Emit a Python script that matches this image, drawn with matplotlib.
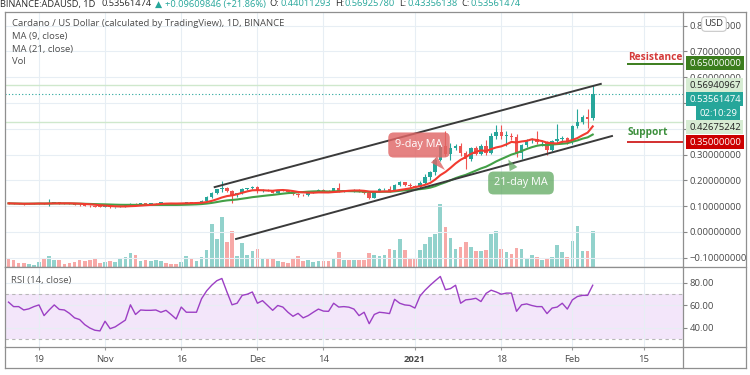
import numpy as np
import pandas as pd
import matplotlib
matplotlib.use("Agg")
import matplotlib.pyplot as plt
import matplotlib.dates as mdates
from matplotlib.lines import Line2D
from matplotlib.ticker import FuncFormatter

plt.rcParams['font.family'] = ['Open Sans', 'DejaVu Sans']

# ---------------- data ----------------
dates = pd.date_range("2020-10-13", "2021-02-05", freq="D")

opens = [0.113, 0.111, 0.110, 0.109, 0.108, 0.110, 0.111, 0.113, 0.109, 0.113,
         0.115, 0.111, 0.110, 0.108, 0.105, 0.104, 0.101, 0.100, 0.098, 0.097,
         0.099, 0.095, 0.097, 0.100, 0.105, 0.110, 0.107, 0.111, 0.109, 0.111,
         0.112, 0.113, 0.111, 0.110, 0.108, 0.111, 0.116, 0.113, 0.116, 0.122,
         0.137, 0.152, 0.165, 0.172, 0.159, 0.142, 0.151, 0.168, 0.170, 0.176,
         0.157, 0.162, 0.160, 0.152, 0.161, 0.158, 0.155, 0.147, 0.145, 0.142,
         0.153, 0.157, 0.163, 0.160, 0.157, 0.169, 0.159, 0.162, 0.158, 0.163,
         0.157, 0.151, 0.133, 0.156, 0.166, 0.168, 0.160, 0.182, 0.192, 0.184,
         0.180, 0.176, 0.190, 0.214, 0.232, 0.280, 0.335, 0.302, 0.327, 0.335,
         0.305, 0.282, 0.325, 0.304, 0.334, 0.307, 0.372, 0.386, 0.372, 0.374,
         0.368, 0.307, 0.338, 0.356, 0.360, 0.347, 0.350, 0.318, 0.352, 0.360,
         0.366, 0.347, 0.410, 0.428, 0.446, 0.44011293]
highs = [0.115, 0.114, 0.112, 0.111, 0.111, 0.112, 0.114, 0.114, 0.128, 0.117,
         0.116, 0.113, 0.112, 0.110, 0.107, 0.105, 0.103, 0.101, 0.100, 0.100,
         0.100, 0.098, 0.101, 0.106, 0.112, 0.112, 0.112, 0.113, 0.112, 0.113,
         0.114, 0.114, 0.113, 0.112, 0.112, 0.118, 0.118, 0.117, 0.124, 0.140,
         0.156, 0.168, 0.196, 0.176, 0.161, 0.153, 0.170, 0.172, 0.180, 0.179,
         0.165, 0.166, 0.162, 0.163, 0.164, 0.160, 0.157, 0.150, 0.148, 0.155,
         0.158, 0.165, 0.165, 0.162, 0.172, 0.190, 0.164, 0.164, 0.165, 0.166,
         0.160, 0.153, 0.158, 0.169, 0.171, 0.180, 0.186, 0.198, 0.195, 0.188,
         0.184, 0.196, 0.224, 0.238, 0.285, 0.350, 0.390, 0.345, 0.342, 0.345,
         0.315, 0.330, 0.332, 0.340, 0.356, 0.382, 0.415, 0.415, 0.392, 0.385,
         0.380, 0.342, 0.362, 0.366, 0.390, 0.356, 0.352, 0.358, 0.420, 0.372,
         0.368, 0.415, 0.476, 0.452, 0.476, 0.56925780]
lows = [0.110, 0.109, 0.108, 0.106, 0.107, 0.108, 0.109, 0.107, 0.099, 0.111,
        0.110, 0.109, 0.107, 0.104, 0.102, 0.100, 0.098, 0.096, 0.095, 0.095,
        0.094, 0.093, 0.095, 0.098, 0.103, 0.105, 0.106, 0.108, 0.108, 0.109,
        0.110, 0.110, 0.109, 0.107, 0.107, 0.110, 0.111, 0.112, 0.115, 0.120,
        0.130, 0.148, 0.155, 0.155, 0.114, 0.135, 0.148, 0.163, 0.168, 0.150,
        0.154, 0.158, 0.150, 0.150, 0.157, 0.153, 0.145, 0.136, 0.140, 0.140,
        0.150, 0.155, 0.158, 0.155, 0.155, 0.155, 0.156, 0.157, 0.155, 0.154,
        0.148, 0.126, 0.131, 0.154, 0.161, 0.155, 0.158, 0.178, 0.180, 0.176,
        0.172, 0.170, 0.186, 0.200, 0.222, 0.275, 0.295, 0.280, 0.318, 0.295,
        0.245, 0.275, 0.298, 0.300, 0.298, 0.303, 0.360, 0.362, 0.333, 0.355,
        0.290, 0.281, 0.330, 0.345, 0.342, 0.335, 0.300, 0.312, 0.340, 0.345,
        0.340, 0.340, 0.402, 0.418, 0.405, 0.43356138]
closes = [0.111, 0.110, 0.109, 0.108, 0.110, 0.111, 0.113, 0.109, 0.113, 0.115,
          0.111, 0.110, 0.108, 0.105, 0.104, 0.101, 0.100, 0.098, 0.097, 0.099,
          0.095, 0.097, 0.100, 0.105, 0.110, 0.107, 0.111, 0.109, 0.111, 0.112,
          0.113, 0.111, 0.110, 0.108, 0.111, 0.116, 0.113, 0.116, 0.122, 0.137,
          0.152, 0.165, 0.172, 0.159, 0.142, 0.151, 0.168, 0.170, 0.176, 0.157,
          0.162, 0.160, 0.152, 0.161, 0.158, 0.155, 0.147, 0.145, 0.142, 0.153,
          0.157, 0.163, 0.160, 0.157, 0.169, 0.159, 0.162, 0.158, 0.163, 0.157,
          0.151, 0.133, 0.156, 0.166, 0.168, 0.160, 0.182, 0.192, 0.184, 0.180,
          0.176, 0.190, 0.214, 0.232, 0.280, 0.335, 0.302, 0.327, 0.335, 0.305,
          0.282, 0.325, 0.304, 0.334, 0.307, 0.372, 0.386, 0.372, 0.374, 0.368,
          0.307, 0.338, 0.356, 0.360, 0.347, 0.350, 0.318, 0.352, 0.360, 0.366,
          0.347, 0.410, 0.428, 0.446, 0.43951628, 0.53561474]
volume = [80, 70, 40, 40, 35, 20, 50, 90, 110, 70,
          70, 35, 40, 50, 70, 60, 70, 80, 40, 50,
          60, 50, 80, 100, 140, 120, 60, 70, 60, 70,
          60, 40, 35, 35, 50, 110, 90, 60, 100, 170,
          430, 280, 500, 250, 360, 110, 240, 120, 160, 180,
          80, 90, 90, 60, 50, 40, 80, 110, 60, 70,
          50, 60, 60, 60, 90, 150, 70, 70, 70, 70,
          70, 140, 120, 110, 120, 180, 170, 280, 170, 90,
          90, 170, 230, 300, 330, 630, 400, 290, 180, 200,
          250, 200, 160, 160, 170, 330, 360, 180, 150, 130,
          190, 180, 90, 120, 100, 70, 80, 100, 220, 150,
          100, 260, 410, 160, 160, 360]
rsi = [63, 59, 59, 56, 57, 59, 60.5, 51, 56, 60.5,
       56.5, 56, 53, 49, 47.5, 43, 40, 38, 37.4, 46,
       39.4, 41, 44, 47, 60.6, 52, 56, 55.7, 55.7, 56,
       54, 55.7, 52, 48, 58.6, 54, 54, 54, 66, 73,
       78, 82, 84, 72, 60.6, 62, 69, 70, 72, 62,
       64.3, 60, 55.7, 60, 58.6, 54, 50.4, 53, 49, 51,
       54, 56.8, 55, 54.8, 62, 58.6, 59, 58.5, 56.8, 51,
       54, 43.8, 52, 54, 53.5, 52.8, 65.5, 62, 60.5, 60,
       57.7, 68.4, 73.6, 78, 82, 85.8, 74, 75, 78, 62,
       65, 65.5, 66.4, 63.5, 70.7, 73.6, 72, 70, 71, 71,
       54.8, 60.6, 61.4, 60, 59, 59, 52.8, 57.7, 58.6, 62,
       56.8, 65, 68, 69, 69, 78]

tick_dates = pd.to_datetime(["2020-10-19", "2020-11-01", "2020-11-16", "2020-12-01",
                             "2020-12-14", "2021-01-01", "2021-01-18", "2021-02-01",
                             "2021-02-15"])
tick_labels = ["19", "Nov", "16", "Dec", "14", "2021", "18", "Feb", "15"]
price_ticks = [-0.1, 0.0, 0.1, 0.2, 0.3, 0.4, 0.5, 0.6, 0.7, 0.8]
hidden_price_labels = [0.4, 0.5]   # covered by the price tags in the reference
rsi_ticks = [40, 60, 80]

upper_line_dates = pd.to_datetime(["2020-11-22 14:00", "2021-02-06 14:00"])
upper_line_prices = [0.174, 0.574]
lower_line_dates = pd.to_datetime(["2020-11-26 19:00", "2021-02-08 19:00"])
lower_line_prices = [-0.027, 0.372]

resistance = 0.65
support = 0.35
level_start = pd.Timestamp("2021-02-11 17:00")
high_mark = 0.56940967
last_close = 0.53561474
low_mark = 0.42675242

# ---------------- figure ----------------
W, H = 750, 375
fig = plt.figure(figsize=(7.5, 3.75), dpi=100)
fig.patch.set_facecolor('white')


def rect(x0, y0, x1, y1):
    return [x0 / W, 1 - y1 / H, (x1 - x0) / W, (y1 - y0) / H]


TEAL = '#26a69a'
RED = '#ef5350'
GRID = '#e7eef4'
FRAME = '#8f8f8f'
TXT = '#4a4a4a'

x = mdates.date2num(dates)
xref = mdates.date2num(pd.Timestamp("2020-10-19"))
xlim = (xref - 6.69, xref + 126.77)

ax_vol = fig.add_axes(rect(5, 12, 683, 267))
ax = fig.add_axes(rect(5, 12, 683, 267))
ax.patch.set_visible(False)
ax_rsi = fig.add_axes(rect(5, 267, 683, 347))

o, h, l, c = (np.array(v) for v in (opens, highs, lows, closes))
up = c >= o
col = np.where(up, TEAL, RED)

# volume
vol_col = np.where(up, '#92d2cc', '#f7a9a7')
ax_vol.bar(x, volume, width=0.72, color=vol_col)
ax_vol.set_xlim(xlim)
ax_vol.set_ylim(0, max(volume) * 255 / 63)
ax_vol.axis('off')

# price pane
ax.set_xlim(xlim)
ax.set_ylim(-0.1357, 0.8527)
ax.set_xticks(mdates.date2num(tick_dates))
ax.tick_params(axis='x', bottom=False, labelbottom=False)
ax.grid(True, color=GRID, lw=0.8, zorder=0)
ax.set_axisbelow(True)
ax.yaxis.tick_right()
ax.set_yticks(price_ticks)


def price_fmt(v, p):
    if any(abs(v - hv) < 1e-9 for hv in hidden_price_labels):
        return ""
    return f"{v:.8f}".replace('-', '\u2212')


ax.yaxis.set_major_formatter(FuncFormatter(price_fmt))
ax.tick_params(axis='y', length=3, width=0.8, color='#888888', pad=2,
               labelsize=6.8, labelcolor=TXT)

ax.axhline(high_mark, color='#cfe8cc', lw=1, zorder=1)
ax.axhline(low_mark, color='#cfe8cc', lw=1, zorder=1)
ax.axhline(last_close, color=TEAL, lw=0.8, ls=(0, (1, 2)), zorder=1)

ax.vlines(x, l, h, colors=col, lw=0.8, zorder=3)
body = np.maximum(np.abs(c - o), 0.0025)
ax.bar(x, body, bottom=np.minimum(o, c), width=0.7, color=col, zorder=3)

s = pd.Series(closes)
ma9 = s.rolling(9, min_periods=1).mean()
ma21 = s.rolling(21, min_periods=1).mean()
ax.plot(x, ma21, color='#43a047', lw=1.5, zorder=4)
ax.plot(x, ma9, color='#f23b30', lw=1.5, zorder=4)

ax.plot(mdates.date2num(upper_line_dates), upper_line_prices, color='#3a3a3a', lw=1.4, zorder=5)
ax.plot(mdates.date2num(lower_line_dates), lower_line_prices, color='#3a3a3a', lw=1.4, zorder=5)

lvl = mdates.date2num(level_start)
ax.hlines(resistance, lvl, xlim[1], color='#3b7d1d', lw=1.4, zorder=5)
ax.hlines(support, lvl, xlim[1], color='#d32f2f', lw=1.4, zorder=5)

for sp in ax.spines.values():
    sp.set_color(FRAME)
    sp.set_linewidth(0.9)

# RSI pane
ax_rsi.set_xlim(xlim)
ax_rsi.set_ylim(23.1, 94.2)
ax_rsi.axhspan(30, 70, color='#f3e6fa', zorder=0, lw=0)
ax_rsi.grid(True, color=GRID, lw=0.8, zorder=0)
ax_rsi.set_axisbelow(True)
ax_rsi.axhline(70, color='#b8b8b8', lw=0.8, ls=(0, (3, 3)), zorder=1)
ax_rsi.axhline(30, color='#b8b8b8', lw=0.8, ls=(0, (3, 3)), zorder=1)
ax_rsi.plot(x, rsi, color='#9c3fc4', lw=1.0, zorder=3)
ax_rsi.yaxis.tick_right()
ax_rsi.set_yticks(rsi_ticks)
ax_rsi.yaxis.set_major_formatter(FuncFormatter(lambda v, p: f"{v:.2f}"))
ax_rsi.tick_params(axis='y', length=3, width=0.8, color='#888888', pad=2,
                   labelsize=6.8, labelcolor=TXT)
ax_rsi.set_xticks(mdates.date2num(tick_dates))
ax_rsi.set_xticklabels(tick_labels)
ax_rsi.tick_params(axis='x', length=2, width=0.8, color='#999999', pad=4,
                   labelsize=6.8, labelcolor=TXT)
for t in ax_rsi.get_xticklabels():
    if t.get_text() == "2021":
        t.set_fontweight('bold')
for sp in ax_rsi.spines.values():
    sp.set_color(FRAME)
    sp.set_linewidth(0.9)


# outer frame pieces (figure pixels)
def fline(x0, y0, x1, y1):
    fig.add_artist(Line2D([x0 / W, x1 / W], [1 - y0 / H, 1 - y1 / H],
                          transform=fig.transFigure, color=FRAME, lw=0.9))


fline(746, 12, 746, 368)
fline(683, 12, 746, 12)
fline(5, 368, 746, 368)
fline(5, 347, 5, 368)
fline(683, 347, 683, 368)
fline(683, 267, 746, 267)
fline(683, 347, 746, 347)

# legend texts
legend_lines = ["Cardano / US Dollar (calculated by TradingView), 1D, BINANCE",
                "MA (9, close)", "MA (21, close)", "Vol"]
for i, t in enumerate(legend_lines):
    fig.text(12 / W, 1 - (24 + 12.6 * i) / H, t, fontsize=6.8, color='#4d4d4d', va='center')
fig.text(11 / W, 1 - 281 / H, "RSI (14, close)", fontsize=6.8, color='#555555', va='center')

# header (partially cut off at the top)
fig.canvas.draw()
r = fig.canvas.get_renderer()
DARK = '#2b2b2b'
pieces = [("BINANCE:ADAUSD, 1D", DARK, 6), ("0.53561474", DARK, 3), ("\u25b2", TEAL, 3),
          ("+0.09609846 (+21.86%)", TEAL, 4), ("O:", DARK, 1), ("0.44011293", TEAL, 4),
          ("H:", DARK, 1), ("0.56925780", TEAL, 4), ("L:", DARK, 1), ("0.43356138", TEAL, 4),
          ("C:", DARK, 1), ("0.53561474", TEAL, 0)]
xp = 0
for txt, cc, gap in pieces:
    t = fig.text(xp / W, 1 - 6.5 / H, txt, color=cc, fontsize=6.7, va='baseline', ha='left')
    xp += t.get_window_extent(renderer=r).width + gap


# right price-scale tags
def tag(text, y, fc, tc, xpx=689, ha='left'):
    fig.text(xpx / W, 1 - y / H, text, ha=ha, va='center', fontsize=6.8, color=tc,
             bbox=dict(boxstyle='square,pad=0.28', fc=fc, ec='none'), zorder=10)


tag(f"{resistance:.8f}", 63, '#3b7d1d', 'white')
tag(f"{high_mark:.8f}", 85, '#d7ecd3', '#222222')
tag(f"{last_close:.8f}", 99, TEAL, 'white')
tag("02:10:29", 113, TEAL, 'white', xpx=737, ha='right')
tag(f"{low_mark:.8f}", 127, '#d7ecd3', '#222222')
tag(f"{support:.8f}", 142, '#cc0000', 'white')

fig.text(714 / W, 1 - 24 / H, "USD", ha='center', va='center', fontsize=6.8, color='#333333',
         bbox=dict(boxstyle='round,pad=0.3,rounding_size=0.4', fc='white', ec='#c8c8c8', lw=0.8),
         zorder=11)

# Resistance / Support labels
fig.text(628 / W, 1 - 58 / H, "Resistance", fontsize=7.3, fontweight='bold', color='#d43a3a', va='center')
fig.text(628 / W, 1 - 133 / H, "Support", fontsize=7.3, fontweight='bold', color='#3c8f3c', va='center')

# MA callouts
ax.annotate("9-day MA", xy=(447, H - 172), xycoords='figure pixels',
            xytext=(419, H - 145), textcoords='figure pixels',
            ha='center', va='center', color='white', fontsize=7.8,
            bbox=dict(boxstyle='round,pad=0.65,rounding_size=0.5', fc='#e06666', ec='none', alpha=0.82),
            arrowprops=dict(arrowstyle='wedge,tail_width=0.8,shrink_factor=0.5',
                            fc='#e06666', ec='none', alpha=0.82),
            zorder=7)
ax.annotate("21-day MA", xy=(507, H - 157), xycoords='figure pixels',
            xytext=(521, H - 183), textcoords='figure pixels',
            ha='center', va='center', color='white', fontsize=7.8,
            bbox=dict(boxstyle='round,pad=0.55,rounding_size=0.5', fc='#5fa85f', ec='none', alpha=0.75),
            arrowprops=dict(arrowstyle='wedge,tail_width=0.8,shrink_factor=0.5',
                            fc='#5fa85f', ec='none', alpha=0.75),
            zorder=7)

fig.savefig("out.png", dpi=100, facecolor='white')
